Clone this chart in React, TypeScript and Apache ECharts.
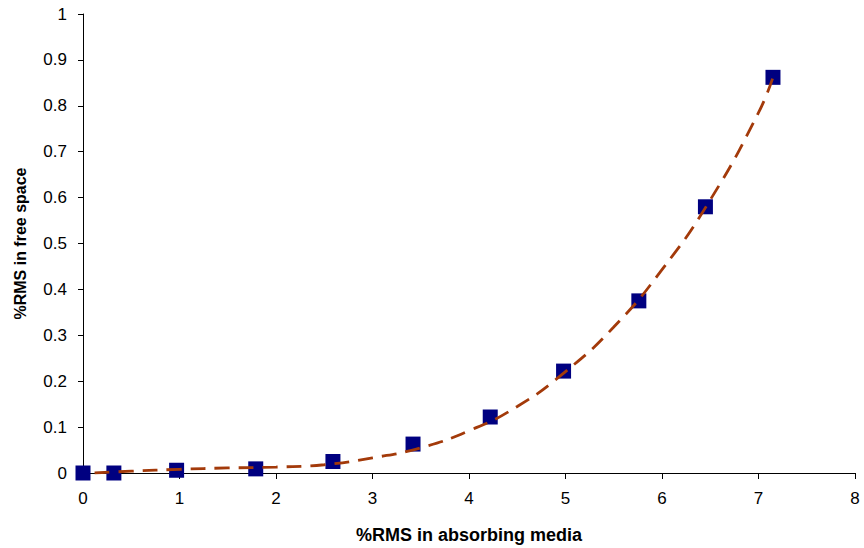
import React, { useEffect, useRef } from "react";
import * as echarts from "echarts";

const measuredX = [0, 0.32, 0.97, 1.79, 2.59, 3.42, 4.22, 4.98, 5.76, 6.45, 7.15];
const measuredY = [0, 0, 0.006, 0.009, 0.025, 0.063, 0.122, 0.222, 0.375, 0.58, 0.862];

const trendX = [0.12, 0.5, 1, 1.5, 2, 2.5, 3, 3.5, 4, 4.5, 5, 5.5, 6, 6.5, 7, 7.15];
const trendY = [0.0, 0.004, 0.008, 0.011, 0.013, 0.018, 0.033, 0.055, 0.092, 0.145, 0.221, 0.318, 0.443, 0.595, 0.785, 0.862];

const FONT = "Liberation Sans, Arial, sans-serif";

export default function App() {
  const ref = useRef<HTMLDivElement>(null);
  useEffect(() => {
    if (!ref.current) return;
    const chart = echarts.init(ref.current, undefined, { renderer: "svg" });
    chart.setOption({
      animation: false,
      backgroundColor: "#ffffff",
      grid: { left: 83, right: 9, top: 14, bottom: 75, containLabel: false, outerBoundsMode: "none" },
      xAxis: {
        type: "value",
        min: 0,
        max: 8,
        interval: 1,
        name: "%RMS in absorbing media",
        nameLocation: "middle",
        nameGap: 53,
        nameTextStyle: { fontFamily: FONT, fontSize: 18, fontWeight: "bold", color: "#000" },
        axisLine: { show: true, lineStyle: { color: "#000", width: 1 } },
        axisTick: { show: true, length: 6, lineStyle: { color: "#000" } },
        axisLabel: { fontFamily: FONT, fontSize: 17, color: "#000", margin: 17 },
        splitLine: { show: false },
      },
      yAxis: {
        type: "value",
        min: 0,
        max: 1,
        interval: 0.1,
        name: "%RMS in free space",
        nameLocation: "middle",
        nameGap: 55,
        nameRotate: 90,
        nameTextStyle: { fontFamily: FONT, fontSize: 16, fontWeight: "bold", color: "#000" },
        axisLine: { show: true, lineStyle: { color: "#000", width: 1 } },
        axisTick: { show: true, length: 5, lineStyle: { color: "#000" } },
        axisLabel: { fontFamily: FONT, fontSize: 17, color: "#000", margin: 16 },
        splitLine: { show: false },
      },
      series: [
        {
          type: "scatter",
          data: measuredX.map((x, i) => [x, measuredY[i]]),
          symbol: "rect",
          symbolSize: 15,
          itemStyle: { color: "#000080", borderWidth: 0, opacity: 1 },
          z: 2,
        },
        {
          type: "line",
          data: trendX.map((x, i) => [x, trendY[i]]),
          smooth: true,
          showSymbol: false,
          symbol: "none",
          lineStyle: { color: "#A33A0A", width: 2.8, type: [15, 9] },
          z: 3,
        },
      ],
    });
    return () => chart.dispose();
  }, []);
  return <div ref={ref} style={{ width: 864, height: 548, position: "absolute", left: 0, top: 0 }} />;
}
